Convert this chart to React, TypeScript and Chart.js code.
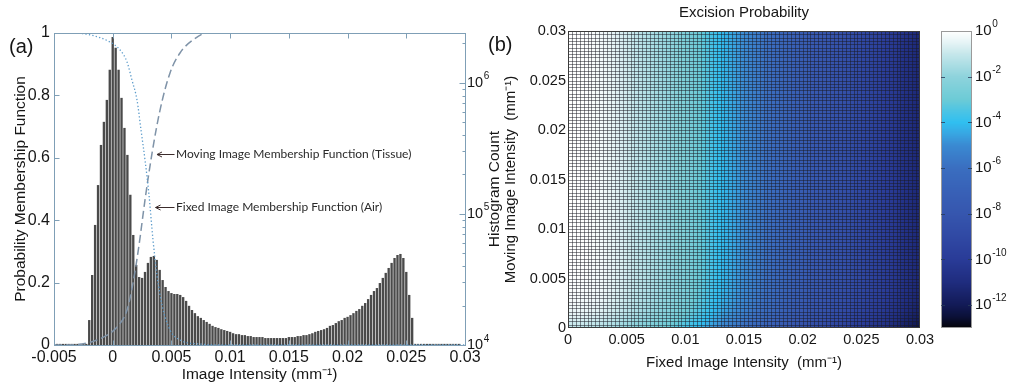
import React, { useEffect, useRef } from 'react';
import { Chart, registerables } from 'chart.js';

Chart.register(...registerables);

const FONT = "'Liberation Sans', Arial, Helvetica, sans-serif";
const NOTE_FONT = "Lato, 'Open Sans', sans-serif";

// ---------------- Panel (a) data ----------------
const histFirstBinCenter = -0.00475;
const histBinWidth = 0.00025;
const histCounts = [
  10200, 10200, 10200, 10200, 10200, 10200, 10200, 10200, 10200, 10200, 10200,
  15500, 34200, 82400, 166000, 336000, 504000, 741000, 1260000, 2240000, 1850000,
  1260000, 768000, 453000, 282000, 140000, 69100, 40800, 33000, 32500, 36100,
  42300, 47000, 47800, 44600, 37400, 31300, 27700, 25800, 24900, 24500,
  24500, 24100, 23200, 21700, 19900, 18500, 17500, 16600, 16100, 15500,
  15000, 14500, 14000, 13700, 13500, 13200, 13000, 12800, 12600, 12300,
  12100, 12100, 11900, 11900, 11700, 11700, 11500, 11500, 11500, 11500,
  11300, 11300, 11300, 11300, 11300, 11300, 11300, 11300, 11500, 11500,
  11500, 11700, 11700, 11900, 11900, 12100, 12300, 12600, 12800, 13000,
  13200, 13500, 14000, 14200, 14700, 15200, 15500, 16100, 16400, 16900,
  17500, 18200, 18800, 19900, 20900, 22400, 24100, 25800, 27200, 29700,
  32500, 35500, 38700, 42300, 46100, 48600, 49500, 46100, 36100, 24100,
  16100,
  10200, 10200, 10200, 10200, 10200, 10200, 10200, 10200,
  10200, 10200, 10200, 10200, 10200, 10200, 10200, 10200,
];

const fixedMembershipX = [-0.005, -0.00364, -0.00193, -0.00023, 0.00062, 0.00122, 0.00164, 0.00207, 0.00241, 0.00275, 0.00309, 0.00343, 0.00377, 0.0042, 0.00488, 0.00573, 0.00743, 0.00999, 0.03];
const fixedMembershipY = [1, 1, 0.994, 0.971, 0.946, 0.907, 0.849, 0.785, 0.689, 0.593, 0.481, 0.337, 0.224, 0.128, 0.048, 0.016, 0.003, 0, 0];
const movingMembershipX = [-0.005, -0.00389, -0.00134, 0.00037, 0.00122, 0.00173, 0.00224, 0.00275, 0.00335, 0.00403, 0.00488, 0.00573, 0.00684, 0.00803, 0.03];
const movingMembershipY = [0, 0, 0.016, 0.058, 0.112, 0.199, 0.32, 0.465, 0.615, 0.753, 0.872, 0.936, 0.978, 1, 1];

const intensityTicks = [-0.005, 0, 0.005, 0.01, 0.015, 0.02, 0.025, 0.03];
const membershipTicks = [0, 0.2, 0.4, 0.6, 0.8, 1];
const countMajorTicks = [1e4, 1e5, 1e6];
const countMinorTicks = [2e4, 3e4, 4e4, 5e4, 6e4, 7e4, 8e4, 9e4, 2e5, 3e5, 4e5, 5e5, 6e5, 7e5, 8e5, 9e5, 2e6];

const annotationsA = [
  { text: 'Moving Image Membership Function (Tissue)', tipX: 0.00377, tipY: 0.612, textX: 0.00539 },
  { text: 'Fixed Image Membership Function (Air)', tipX: 0.00365, tipY: 0.442, textX: 0.00539 },
];

// ---------------- Panel (b) data ----------------
const heatAxisMax = 0.03;
const heatTicks = [0, 0.005, 0.01, 0.015, 0.02, 0.025, 0.03];
// log10 of excision probability per fixed-intensity column
const excisionLogByFixed = [
  -0.005, -0.015, -0.025, -0.045, -0.075, -0.105, -0.15, -0.2, -0.25,
  -0.33, -0.42, -0.5, -0.6, -0.7, -0.8, -0.9, -1.0, -1.1,
  -1.2, -1.3, -1.4, -1.5, -1.6, -1.7, -1.81, -1.93, -2.04,
  -2.17, -2.3, -2.43, -2.58, -2.73, -2.88, -3.04, -3.23, -3.41,
  -3.59, -3.78, -3.96, -4.13, -4.28, -4.43, -4.58, -4.75, -4.92,
  -5.08, -5.25, -5.42, -5.58, -5.75, -5.92, -6.08, -6.25, -6.42,
  -6.58, -6.75, -6.92, -7.07, -7.2, -7.33, -7.46, -7.58, -7.69,
  -7.8, -7.9, -8.0, -8.1, -8.2, -8.3, -8.41, -8.53, -8.64,
  -8.76, -8.88, -8.99, -9.12, -9.25, -9.38, -9.52, -9.65, -9.78,
  -9.93, -10.08, -10.23, -10.38, -10.55, -10.72, -10.88, -11.05, -11.22,
];
// additional log10 offset per moving-intensity row (bottom row first)
const excisionLogOffsetByMoving = [
  -1.1, -0.9, -0.72, -0.58, -0.47, -0.38, -0.31, -0.25, -0.2, -0.16,
  -0.13, -0.1, -0.08, -0.06, -0.05, -0.04, -0.03, -0.02, -0.02, -0.01,
  -0.01, 0, 0, 0, 0, 0, 0, 0, 0, 0,
  0, 0, 0, 0, 0, 0, 0, 0, 0, 0,
  0, 0, 0, 0, 0, 0, 0, 0, 0, 0,
  0, 0, 0, 0, 0, 0, 0, 0, 0, 0,
  0, 0, 0, 0, 0, 0, 0, 0, 0, 0,
  0, 0, 0, 0, 0, 0, 0, 0, 0, 0,
  0, 0, 0, 0, 0, 0, 0, 0, 0, 0,
];
const colorbarMin = 1e-13;
const colorbarMax = 1;
const colorbarTicks = [1, 1e-2, 1e-4, 1e-6, 1e-8, 1e-10, 1e-12];

// ---------------- styles ----------------
const AXIS_A = '#7f9fb6';
const TEXT = '#161616';
const CMAP_STOPS: [number, string][] = [
  [0, '#ffffff'], [-0.5, '#e6f4f6'], [-1, '#c6e7eb'], [-2, '#8ed3dc'], [-3, '#6ccbd6'],
  [-3.5, '#4cc4e4'], [-4, '#30bff0'], [-4.5, '#38a6e2'], [-5, '#3a8ad2'], [-6, '#3a6ec0'],
  [-7, '#3861b7'], [-8, '#3656ae'], [-9, '#3049a4'], [-10, '#293b97'], [-11, '#1f2c7e'],
  [-12, '#121a56'], [-12.5, '#0b1038'], [-13, '#050508'],
];
const parsedStops = CMAP_STOPS.map(([v, c]) => [v, parseInt(c.slice(1, 3), 16), parseInt(c.slice(3, 5), 16), parseInt(c.slice(5, 7), 16)]);
function cmap(v: number): string {
  const t = Math.max(-13, Math.min(0, v));
  for (let i = 0; i < parsedStops.length - 1; i++) {
    const a = parsedStops[i], b = parsedStops[i + 1];
    if (t <= a[0] && t >= b[0]) {
      const f = (a[0] - t) / (a[0] - b[0]);
      const r = Math.round(a[1] + (b[1] - a[1]) * f);
      const g = Math.round(a[2] + (b[2] - a[2]) * f);
      const bl = Math.round(a[3] + (b[3] - a[3]) * f);
      return `rgb(${r},${g},${bl})`;
    }
  }
  return '#000';
}
const fmt = (v: number) => String(Number(Number(v).toPrecision(6)));

// draws "10" with a raised exponent, left-aligned at (x, y)
function drawPower(ctx: CanvasRenderingContext2D, value: number, x: number, y: number, size: number) {
  const e = Math.round(Math.log10(value));
  ctx.textAlign = 'left';
  ctx.textBaseline = 'middle';
  ctx.font = `${size}px ${FONT}`;
  ctx.fillText('10', x, y);
  const w = ctx.measureText('10').width;
  ctx.font = `${Math.round(size * 0.68 * 2) / 2}px ${FONT}`;
  ctx.fillText(String(e), x + w + 0.5, y - size * 0.43);
}

const panelAPlugin = {
  id: 'panelA',
  afterDraw(chart: any) {
    const { ctx, chartArea: a, scales } = chart;
    const x = scales.x, y = scales.y, yR = scales.yR;
    ctx.save();
    ctx.strokeStyle = AXIS_A;
    ctx.lineWidth = 1;
    const L = Math.round(a.left) + 0.5, R = Math.round(a.right) + 0.5, T = Math.round(a.top) + 0.5, B = Math.round(a.bottom) + 0.5;
    ctx.strokeRect(L, T, R - L, B - T);
    ctx.beginPath();
    for (const t of x.ticks) {
      const px = Math.round(x.getPixelForValue(t.value)) + 0.5;
      ctx.moveTo(px, B); ctx.lineTo(px, B - 5);
      ctx.moveTo(px, T); ctx.lineTo(px, T + 5);
    }
    for (const t of y.ticks) {
      const py = Math.round(y.getPixelForValue(t.value)) + 0.5;
      ctx.moveTo(L, py); ctx.lineTo(L + 5, py);
    }
    for (const t of yR.ticks) {
      const len = countMajorTicks.includes(t.value) ? 6 : 3;
      const py = Math.round(yR.getPixelForValue(t.value)) + 0.5;
      ctx.moveTo(R, py); ctx.lineTo(R - len, py);
    }
    ctx.stroke();

    // right axis tick labels (powers of ten)
    ctx.fillStyle = TEXT;
    for (const v of countMajorTicks) {
      drawPower(ctx, v, a.right + 2, yR.getPixelForValue(v), 14.5);
    }

    // right axis title (reads bottom-to-top)
    ctx.font = `15.5px ${FONT}`;
    ctx.textAlign = 'center';
    ctx.textBaseline = 'middle';
    ctx.save();
    ctx.translate(495, (a.top + a.bottom) / 2);
    ctx.rotate(-Math.PI / 2);
    ctx.fillText('Histogram Count', 0, 0);
    ctx.restore();

    // panel label
    ctx.font = `20px ${FONT}`;
    ctx.textAlign = 'left';
    ctx.fillText('(a)', 9, 47);

    // annotations with arrows
    ctx.font = `12px ${NOTE_FONT}`;
    for (const an of annotationsA) {
      const tx = x.getPixelForValue(an.tipX);
      const ty = Math.round(y.getPixelForValue(an.tipY)) + 0.5;
      const sx = x.getPixelForValue(an.textX);
      ctx.strokeStyle = '#3b2b2b';
      ctx.lineWidth = 1;
      ctx.beginPath();
      ctx.moveTo(sx - 1.5, ty); ctx.lineTo(tx, ty);
      ctx.moveTo(tx + 5, ty - 2.5); ctx.lineTo(tx, ty); ctx.lineTo(tx + 5, ty + 2.5);
      ctx.stroke();
      ctx.fillStyle = '#2a2a2a';
      ctx.fillText(an.text, sx, ty);
    }
    ctx.restore();
  },
};

const panelBPlugin = {
  id: 'panelB',
  beforeDatasetsDraw(chart: any) {
    const { ctx, chartArea: a, scales } = chart;
    const x = scales.x, y = scales.y;
    const n = excisionLogByFixed.length, m = excisionLogOffsetByMoving.length;
    const cw = heatAxisMax / n, chh = heatAxisMax / m;
    ctx.save();
    for (let i = 0; i < n; i++) {
      const x0 = Math.round(x.getPixelForValue(i * cw));
      const x1 = Math.round(x.getPixelForValue((i + 1) * cw));
      for (let j = 0; j < m; j++) {
        const y0 = Math.round(y.getPixelForValue((j + 1) * chh));
        const y1 = Math.round(y.getPixelForValue(j * chh));
        ctx.fillStyle = cmap(excisionLogByFixed[i] + excisionLogOffsetByMoving[j]);
        ctx.fillRect(x0, y0, x1 - x0, y1 - y0);
      }
    }
    ctx.strokeStyle = 'rgba(25,25,35,0.5)';
    ctx.lineWidth = 1;
    ctx.beginPath();
    for (let i = 0; i <= n; i++) {
      const px = Math.min(Math.round(x.getPixelForValue(i * cw)), Math.round(a.right) - 1) + 0.5;
      ctx.moveTo(px, a.top); ctx.lineTo(px, a.bottom);
    }
    for (let j = 0; j <= m; j++) {
      const py = Math.min(Math.round(y.getPixelForValue(j * chh)), Math.round(a.bottom) - 1) + 0.5;
      ctx.moveTo(a.left, py); ctx.lineTo(a.right, py);
    }
    ctx.stroke();
    ctx.restore();
  },
  afterDraw(chart: any) {
    const { ctx, chartArea: a, scales } = chart;
    const cb = scales.cb;
    ctx.save();
    // frame of heatmap
    ctx.strokeStyle = '#3a3a3a';
    ctx.lineWidth = 1;
    ctx.strokeRect(Math.round(a.left) + 0.5, Math.round(a.top) + 0.5, Math.round(a.right - a.left) - 1, Math.round(a.bottom - a.top) - 1);

    // colorbar
    const cbLeft = Math.round(a.right) + 21;
    const cbWidth = 31;
    const top = Math.round(cb.top), bottom = Math.round(cb.bottom);
    for (let py = top; py < bottom; py++) {
      const v = cb.getValueForPixel(py + 0.5);
      ctx.fillStyle = cmap(Math.log10(v));
      ctx.fillRect(cbLeft, py, cbWidth, 1);
    }
    ctx.strokeStyle = '#9a9a9a';
    ctx.strokeRect(cbLeft + 0.5, top + 0.5, cbWidth - 1, bottom - top - 1);
    ctx.strokeStyle = 'rgba(40,60,90,0.8)';
    ctx.beginPath();
    for (const t of cb.ticks) {
      const py = Math.round(cb.getPixelForValue(t.value)) + 0.5;
      if (py <= top + 2 || py >= bottom - 2) continue;
      ctx.moveTo(cbLeft, py); ctx.lineTo(cbLeft + 4, py);
      ctx.moveTo(cbLeft + cbWidth, py); ctx.lineTo(cbLeft + cbWidth - 4, py);
    }
    ctx.stroke();
    ctx.fillStyle = TEXT;
    for (const t of cb.ticks) {
      drawPower(ctx, t.value, cbLeft + cbWidth + 3, cb.getPixelForValue(t.value), 15);
    }

    // title and panel label
    ctx.fillStyle = TEXT;
    ctx.font = `15px ${FONT}`;
    ctx.textAlign = 'center';
    ctx.textBaseline = 'middle';
    ctx.fillText('Excision Probability', (a.left + a.right) / 2, 13);
    ctx.font = `20px ${FONT}`;
    ctx.textAlign = 'left';
    ctx.fillText('(b)', 8, 45);
    ctx.restore();
  },
};

const zeroPad = (s: any) => { s.paddingTop = 0; s.paddingBottom = 0; s.paddingLeft = 0; s.paddingRight = 0; };

export default function App() {
  const refA = useRef<HTMLCanvasElement>(null);
  const refB = useRef<HTMLCanvasElement>(null);

  useEffect(() => {
    document.body.style.margin = '0';
    Chart.defaults.font.family = FONT;

    const histData = histCounts.map((c, i) => ({ x: histFirstBinCenter + i * histBinWidth, y: c }));
    const fixedData = fixedMembershipX.map((x, i) => ({ x, y: fixedMembershipY[i] }));
    const movingData = movingMembershipX.map((x, i) => ({ x, y: movingMembershipY[i] }));

    const chartA = new Chart(refA.current as HTMLCanvasElement, {
      type: 'bar',
      data: {
        datasets: [
          {
            type: 'line', label: 'Fixed Image Membership Function (Air)', data: fixedData,
            xAxisID: 'x', yAxisID: 'y', borderColor: '#5d9ccb', borderWidth: 1.3, borderDash: [1.3, 2.2],
            pointRadius: 0, cubicInterpolationMode: 'monotone', fill: false, order: 0,
          } as any,
          {
            type: 'line', label: 'Moving Image Membership Function (Tissue)', data: movingData,
            xAxisID: 'x', yAxisID: 'y', borderColor: '#7f93a8', borderWidth: 1.5, borderDash: [8, 4],
            pointRadius: 0, cubicInterpolationMode: 'monotone', fill: false, order: 1,
          } as any,
          {
            type: 'bar', label: 'Histogram Count', data: histData, xAxisID: 'x', yAxisID: 'yR',
            backgroundColor: '#4a4a4a', borderWidth: 0, barPercentage: 0.8, categoryPercentage: 1, order: 2,
          } as any,
        ],
      },
      options: {
        responsive: false,
        animation: false,
        events: [],
        layout: { padding: { top: 33, left: 0, right: 0, bottom: 0 } },
        plugins: { legend: { display: false }, tooltip: { enabled: false } },
        scales: {
          x: {
            type: 'linear', position: 'bottom', min: -0.005, max: 0.03, offset: false,
            grid: { display: false, drawTicks: false, offset: false }, border: { display: false },
            afterBuildTicks: (s: any) => { s.ticks = intensityTicks.map((value) => ({ value })); },
            ticks: { autoSkip: false, maxRotation: 0, padding: 3, color: TEXT, font: { family: FONT, size: 16 }, callback: (v: any) => fmt(v) },
            title: { display: true, text: 'Image Intensity (mm⁻¹)', color: TEXT, font: { family: FONT, size: 15.5 }, padding: { top: 0, bottom: 5 } },
            afterFit: (s: any) => { s.height = 44; zeroPad(s); },
          },
          y: {
            type: 'linear', position: 'left', min: 0, max: 1,
            grid: { display: false, drawTicks: false }, border: { display: false },
            afterBuildTicks: (s: any) => { s.ticks = membershipTicks.map((value) => ({ value })); },
            ticks: { autoSkip: false, padding: 4, color: TEXT, font: { family: FONT, size: 16 }, callback: (v: any) => fmt(v) },
            title: { display: true, text: 'Probability Membership Function', color: TEXT, font: { family: FONT, size: 15.5 }, padding: { top: 11, bottom: 0 } },
            afterFit: (s: any) => { s.width = 54; zeroPad(s); },
          },
          yR: {
            type: 'logarithmic', position: 'right', min: 1e4, max: 2.4e6, beginAtZero: false,
            grid: { display: false, drawTicks: false }, border: { display: false },
            afterBuildTicks: (s: any) => { s.ticks = [...countMajorTicks, ...countMinorTicks].sort((p, q) => p - q).map((value) => ({ value })); },
            ticks: { display: false, autoSkip: false },
            afterFit: (s: any) => { s.width = 80; zeroPad(s); },
          },
        },
      } as any,
      plugins: [panelAPlugin],
    });

    const chartB = new Chart(refB.current as HTMLCanvasElement, {
      type: 'scatter',
      data: { datasets: [{ label: 'Excision Probability', data: [] }] },
      options: {
        responsive: false,
        animation: false,
        events: [],
        layout: { padding: { top: 31, left: 0, right: 0, bottom: 0 } },
        plugins: { legend: { display: false }, tooltip: { enabled: false } },
        scales: {
          x: {
            type: 'linear', position: 'bottom', min: 0, max: heatAxisMax,
            grid: { display: false, drawTicks: false }, border: { display: false },
            afterBuildTicks: (s: any) => { s.ticks = heatTicks.map((value) => ({ value })); },
            ticks: { autoSkip: false, maxRotation: 0, padding: 3, color: TEXT, font: { family: FONT, size: 14.5 }, callback: (v: any) => fmt(v) },
            title: { display: true, text: 'Fixed Image Intensity  (mm⁻¹)', color: TEXT, font: { family: FONT, size: 15 }, padding: { top: 0, bottom: 17 } },
            afterFit: (s: any) => { s.height = 61; zeroPad(s); },
          },
          y: {
            type: 'linear', position: 'left', min: 0, max: heatAxisMax,
            grid: { display: false, drawTicks: false }, border: { display: false },
            afterBuildTicks: (s: any) => { s.ticks = heatTicks.map((value) => ({ value })); },
            ticks: { autoSkip: false, padding: 2, color: TEXT, font: { family: FONT, size: 14.5 }, callback: (v: any) => fmt(v) },
            title: { display: true, text: 'Moving Image Intensity  (mm⁻¹)', color: TEXT, font: { family: FONT, size: 15 }, padding: { top: 22, bottom: 0 } },
            afterFit: (s: any) => { s.width = 88; zeroPad(s); },
          },
          cb: {
            type: 'logarithmic', position: 'right', min: colorbarMin, max: colorbarMax,
            grid: { display: false, drawTicks: false }, border: { display: false },
            afterBuildTicks: (s: any) => { s.ticks = colorbarTicks.map((value) => ({ value })); },
            ticks: { display: false, autoSkip: false },
            afterFit: (s: any) => { s.width = 89; zeroPad(s); },
          },
        },
      } as any,
      plugins: [panelBPlugin],
    });

    return () => {
      chartA.destroy();
      chartB.destroy();
    };
  }, []);

  return (
    <div style={{ position: 'relative', width: 1009, height: 389, background: '#ffffff', overflow: 'hidden' }}>
      <canvas ref={refA} width={545} height={389} style={{ position: 'absolute', left: 0, top: 0 }} />
      <canvas ref={refB} width={529} height={389} style={{ position: 'absolute', left: 480, top: 0 }} />
    </div>
  );
}
